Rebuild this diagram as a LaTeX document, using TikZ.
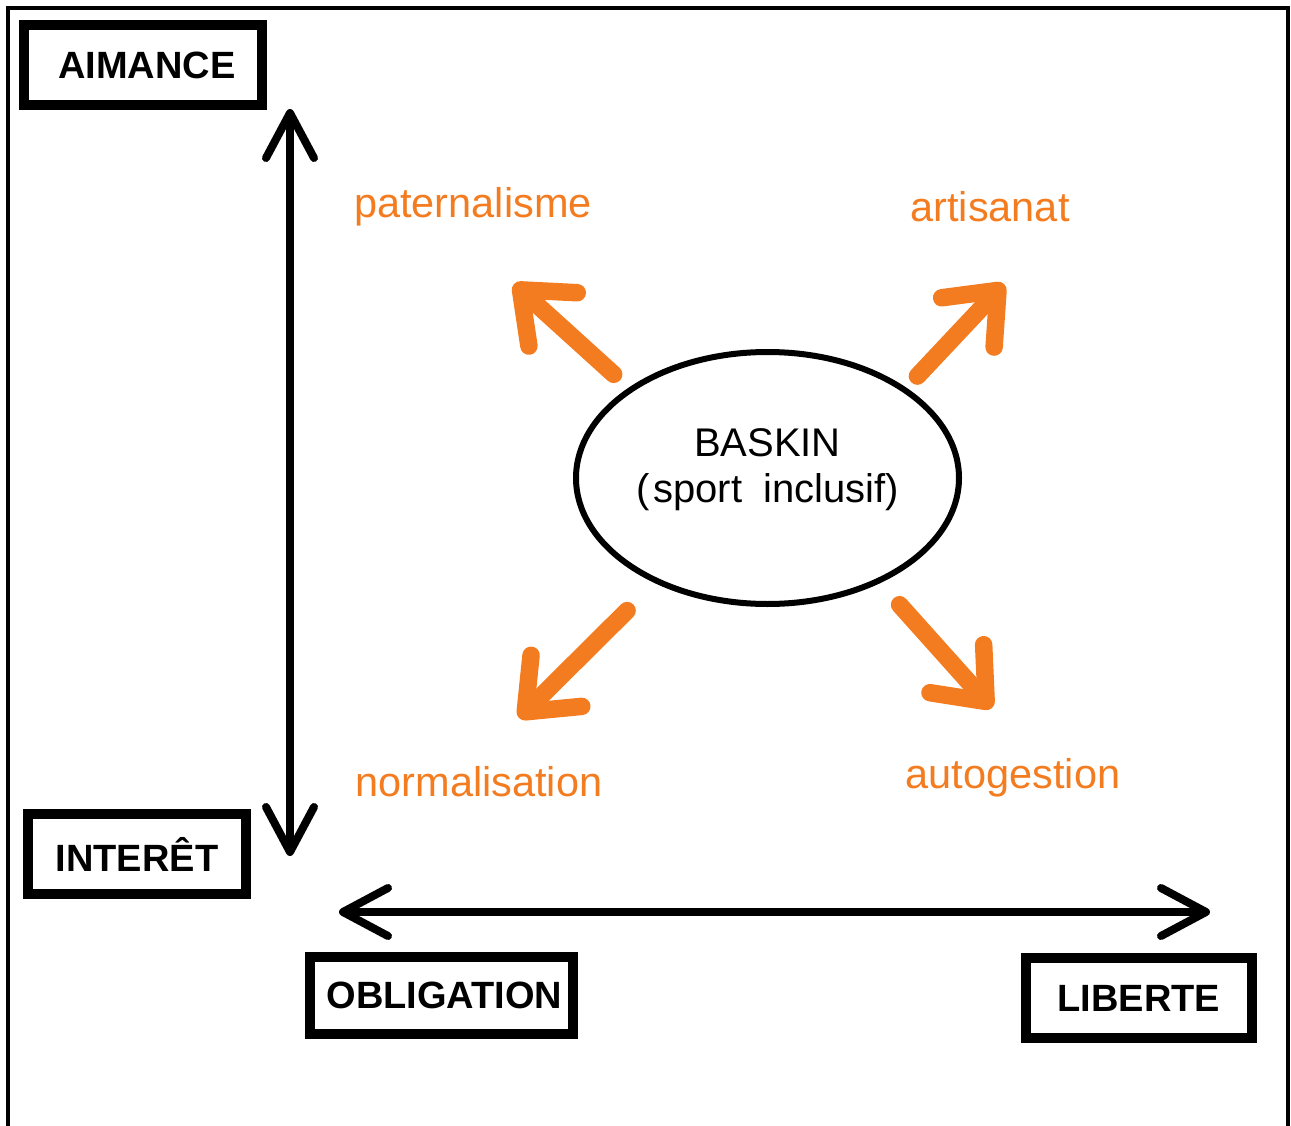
\documentclass[tikz,border=0pt]{standalone}
\usepackage{xcolor}
\usepackage{fontspec}
\setmainfont{Liberation Sans}
\usepackage{tikz}
\usetikzlibrary{arrows.meta, positioning, calc, shapes.geometric}

\definecolor{trendorange}{RGB}{244,124,32}

\begin{document}
\begin{tikzpicture}[x=1pt, y=-1pt,
    axisbox/.style={draw, line width=10pt, inner sep=0pt, minimum height=80pt,
                    font=\fontsize{38}{44}\selectfont\bfseries},
    axisarrow/.style={line width=8pt, line cap=round,
                      {Straight Barb[length=45pt, width=48pt, round]}-{Straight Barb[length=45pt, width=48pt, round]}},
    trendarrow/.style={trendorange, line width=17.5pt, line cap=round,
                       -{Straight Barb[length=44pt, width=72pt, round]}},
    trendlabel/.style={trendorange, font=\fontsize{41.5}{48}\selectfont}]

  \useasboundingbox (0,0) rectangle (1291,1126);

  % outer frame (open at the bottom)
  \draw[line width=3.5pt] (8,1126) -- (8,8) -- (1288,8) -- (1288,1126);

  % axis boxes
  \node[axisbox, minimum width=238pt] (aimance) at (143,65) {\hspace{8pt}AIMANCE};
  \node[axisbox, minimum width=218pt] (interet) at (137,854) {INTERÊT};
  \node[axisbox, minimum width=263pt, minimum height=77pt] (obligation) at (441.5,995.5) {\hspace{6pt}OBLIGATION};
  \node[axisbox, minimum width=226pt] (liberte) at (1139,998) {LIBERTE\hspace{10pt}};

  % axes
  \coordinate (vtop) at (290,109);
  \coordinate (vbot) at (290,856);
  \coordinate (hleft) at (339,912);
  \coordinate (hright) at (1210,912);
  \draw[axisarrow] (vtop) -- (vbot);
  \draw[axisarrow] (hleft) -- (hright);

  % centre
  \node[ellipse, draw, line width=6pt, inner sep=0pt,
        minimum width=383pt, minimum height=252pt,
        label={[align=center, yshift=8pt, font=\fontsize{40}{46}\selectfont]center:BASKIN\\(\kern4pt sport\kern10pt\ inclusif)}]
        (baskin) at (767.5,478) {};

  % the four directions
  \node[trendlabel] (paternalisme) at (473,207) {paternalisme};
  \node[trendlabel] (artisanat) at (990,207) {artisanat};
  \node[trendlabel] (normalisation) at (479,782) {normalisation};
  \node[trendlabel] (autogestion) at (1013,778) {autogestion};

  \coordinate (patTip) at (514,284);
  \coordinate (artTip) at (1004,284);
  \coordinate (norTip) at (519,718);
  \coordinate (autTip) at (992,708);

  \draw[trendarrow, shorten <=20pt] (baskin.147.6) -- (patTip);
  \draw[trendarrow, shorten <=16pt] (baskin.33.6) -- (artTip);
  \draw[trendarrow, shorten <=39pt] (baskin.223.2) -- (norTip);
  \draw[trendarrow, shorten <=29pt] (baskin.317.1) -- (autTip);

\end{tikzpicture}
\end{document}
